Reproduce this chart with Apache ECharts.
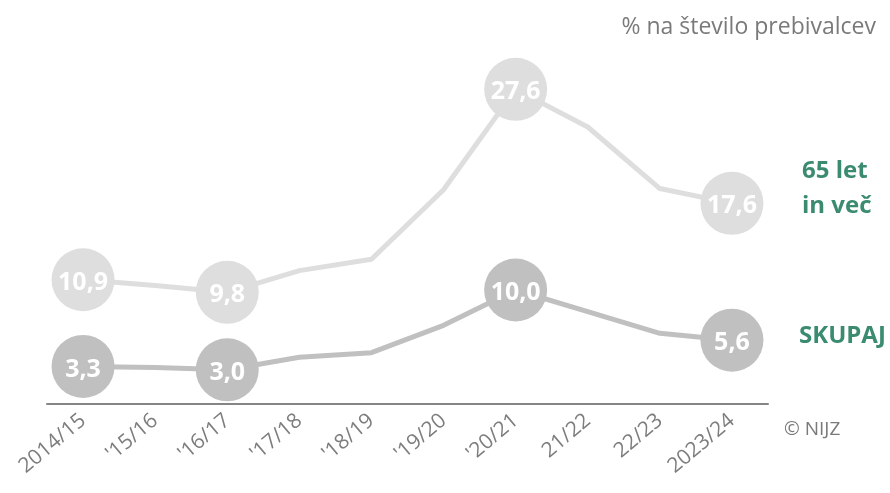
<!DOCTYPE html>
<html>
<head>
<meta charset="utf-8">
<script src="https://cdn.jsdelivr.net/npm/echarts@6/dist/echarts.min.js"></script>
<style>
  html, body { margin: 0; padding: 0; background: #fff; }
  #chart { width: 890px; height: 493px; }
</style>
</head>
<body>
<div id="chart"></div>
<script>
// sezone
var seasons = ['2014/15', "'15/16", "'16/17", "'17/18", "'18/19", "'19/20", "'20/21", '21/22', '22/23', '2023/24'];
// % na število prebivalcev
var older65 = [10.9, 10.4, 9.8, 11.7, 12.7, 18.8, 27.6, 24.3, 18.9, 17.6];
var total = [3.3, 3.2, 3.0, 4.1, 4.5, 6.9, 10.0, 8.1, 6.2, 5.6];
// točke z označeno vrednostjo
var marked = [0, 2, 6, 9];

var font = 'Open Sans';

function withMarks(values) {
    return values.map(function (v, i) {
        if (marked.indexOf(i) < 0) {
            return {value: v, symbol: 'none', label: {show: false}};
        }
        return {value: v};
    });
}

function lineSeries(name, values, color) {
    return {
        name: name,
        type: 'line',
        data: withMarks(values),
        symbol: 'circle',
        symbolSize: 63,
        showAllSymbol: true,
        lineStyle: {color: color, width: 5},
        itemStyle: {color: color},
        label: {
            show: true,
            position: 'inside',
            offset: [0, 3],
            color: '#fff',
            fontFamily: font,
            fontWeight: 'bold',
            fontSize: 25,
            formatter: function (p) {
                return p.value.toFixed(1).replace('.', ',');
            }
        },
        emphasis: {disabled: true},
        animation: false
    };
}

var chart = echarts.init(document.getElementById('chart'));
chart.setOption({
    backgroundColor: '#fff',
    textStyle: {fontFamily: font},
    title: {
        text: '% na število prebivalcev',
        right: 9,
        top: 11,
        textStyle: {fontFamily: font, fontWeight: 'normal', fontSize: 23, color: '#7a7a7a'}
    },
    grid: {left: 47, right: 122, top: 62, bottom: 89},
    xAxis: {
        type: 'category',
        data: seasons,
        boundaryGap: true,
        axisLine: {lineStyle: {color: '#858585', width: 2}},
        axisTick: {show: false},
        axisLabel: {
            rotate: 40,
            margin: 14,
            interval: 0,
            fontFamily: font,
            fontSize: 21,
            color: '#7d7d7d'
        }
    },
    yAxis: {
        type: 'value',
        min: 0,
        max: 30,
        show: false,
        splitLine: {show: false}
    },
    series: [
        lineSeries('65 let in več', older65, '#dedede'),
        lineSeries('SKUPAJ', total, '#c0c0c0')
    ],
    graphic: [
        {
            type: 'text', left: 802, top: 154,
            style: {text: '65 let\nin več', fill: '#3b8b6e', font: 'bold 24px "Open Sans"', lineHeight: 35}
        },
        {
            type: 'text', left: 799, top: 324,
            style: {text: 'SKUPAJ', fill: '#3b8b6e', font: 'bold 24px "Open Sans"'}
        },
        {
            type: 'text', left: 784, top: 420,
            style: {text: '© NIJZ', fill: '#7a7a7a', font: '19px "Open Sans"'}
        }
    ]
});
</script>
</body>
</html>
